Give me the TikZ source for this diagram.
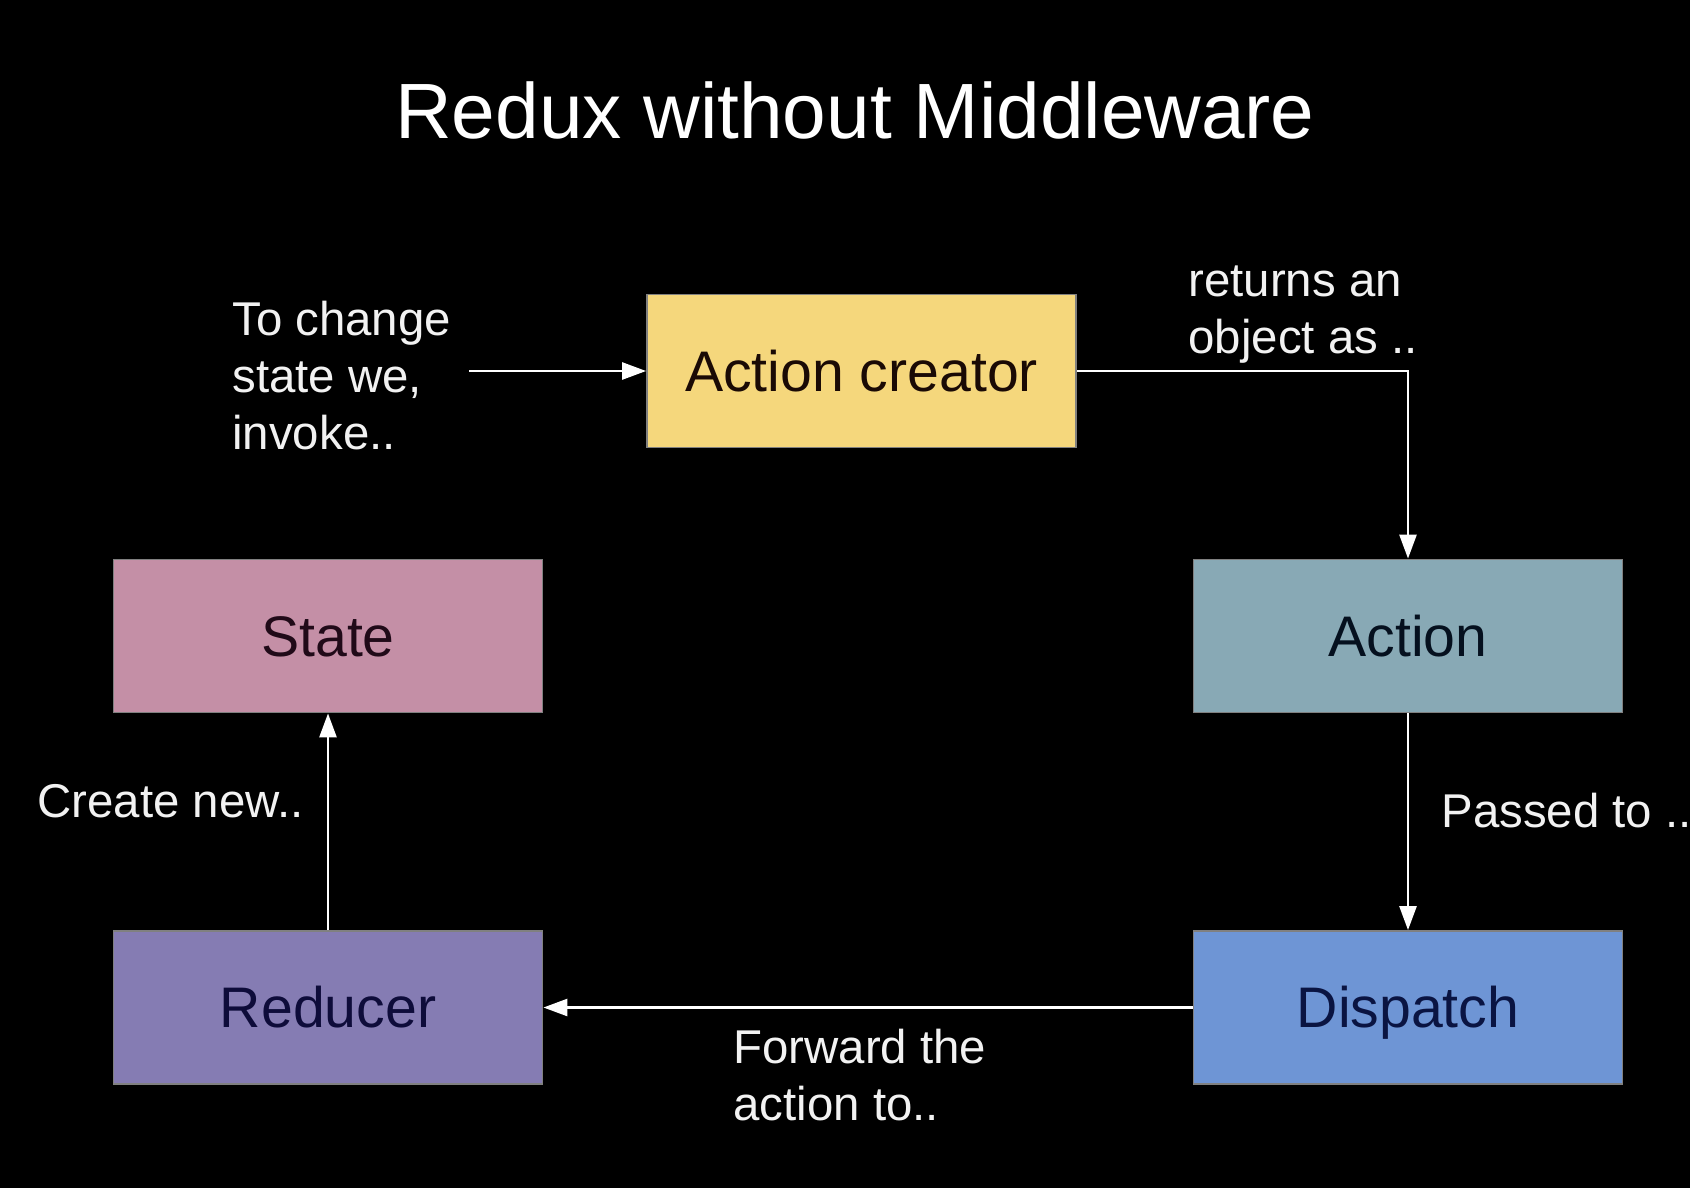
\documentclass[tikz,border=0pt]{standalone}
\usepackage{fontspec}
\setmainfont{Liberation Sans}
\usetikzlibrary{arrows.meta}
\definecolor{acfill}{HTML}{F5D77C}
\definecolor{stfill}{HTML}{C48FA6}
\definecolor{afill}{HTML}{88A9B5}
\definecolor{rfill}{HTML}{857CB3}
\definecolor{dfill}{HTML}{6E95D5}
\definecolor{boxborder}{HTML}{808080}
\definecolor{actext}{HTML}{1A0A05}
\definecolor{sttext}{HTML}{200A18}
\definecolor{atext}{HTML}{05101E}
\definecolor{rtext}{HTML}{0E0C3A}
\definecolor{dtext}{HTML}{0A1442}
\definecolor{lbltext}{HTML}{F2F2F2}
\begin{document}
\begin{tikzpicture}[x=0.5pt,y=-0.5pt,
  box/.style={draw=boxborder, line width=0.9pt, minimum width=214.5pt, minimum height=76.5pt,
    inner sep=0pt, text height=20.4pt, text depth=0pt, font=\fontsize{28.6}{34}\selectfont},
  lbl/.style={text=lbltext, font=\fontsize{23.7}{28.5}\selectfont, align=left, inner sep=0pt, anchor=base west},
  arr/.style={draw=white, line width=1.3pt, -{Triangle[length=12pt,width=8.5pt]}}]
\fill[black] (0,0) rectangle (1690,1188);
\useasboundingbox (0,0) rectangle (1690,1188);
\node[text=white, font=\fontsize{39.2}{46}\selectfont, inner sep=0pt, anchor=base] (title) at (855,138) {Redux without Middleware};
\node[box, fill=acfill, text=actext] (ac) at (861.5,371) {Action creator};
\node[box, fill=stfill, text=sttext] (state) at (328,636) {State};
\node[box, fill=afill, text=atext] (action) at (1408,636) {Action};
\node[box, fill=rfill, text=rtext] (reducer) at (328,1007.5) {Reducer};
\node[box, fill=dfill, text=dtext] (dispatch) at (1408,1007.5) {Dispatch};
\node[lbl] (l1) at (232,449) {To change\\state we,\\invoke..};
\node[lbl] (l2) at (1188,353) {returns an\\object as ..};
\node[lbl] (l3) at (1441,827) {Passed to ..};
\node[lbl] (l4) at (733,1120) {Forward the\\action to..};
\node[lbl] (l5) at (37,817) {Create new..};
\coordinate (start) at (469,371);
\draw[arr] (start) -- (ac.west);
\draw[arr] (ac.east) -| (action.north);
\draw[arr] (action.south) -- (dispatch.north);
\draw[arr] (dispatch.west) -- (reducer.east);
\draw[arr] (reducer.north) -- (state.south);
\end{tikzpicture}
\end{document}
